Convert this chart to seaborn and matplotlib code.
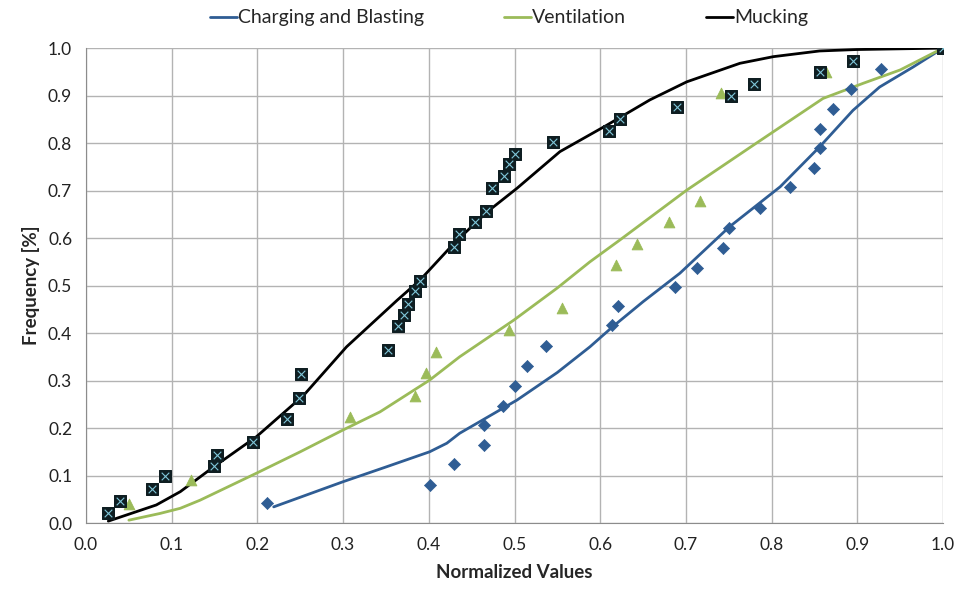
import matplotlib
matplotlib.use("Agg")
import matplotlib.pyplot as plt
import seaborn as sns

cb_x = [0.211, 0.401, 0.429, 0.464, 0.464, 0.486, 0.501, 0.515, 0.537, 0.614, 0.621,
        0.687, 0.713, 0.743, 0.750, 0.786, 0.821, 0.850, 0.856, 0.856, 0.872, 0.893, 0.928, 1.0]
cb_y = [0.043, 0.080, 0.124, 0.164, 0.206, 0.247, 0.288, 0.331, 0.373, 0.417, 0.457,
        0.497, 0.538, 0.580, 0.622, 0.664, 0.708, 0.748, 0.789, 0.830, 0.872, 0.914, 0.956, 1.0]

ve_x = [0.050, 0.122, 0.308, 0.384, 0.397, 0.408, 0.494, 0.556, 0.618, 0.643, 0.680,
        0.716, 0.741, 0.864, 1.0]
ve_y = [0.040, 0.090, 0.224, 0.267, 0.315, 0.361, 0.406, 0.452, 0.543, 0.587, 0.633,
        0.678, 0.906, 0.949, 1.0]

mu_x = [0.026, 0.040, 0.077, 0.092, 0.149, 0.153, 0.195, 0.234, 0.248, 0.251, 0.352,
        0.364, 0.371, 0.376, 0.384, 0.390, 0.429, 0.435, 0.454, 0.467, 0.474, 0.488,
        0.494, 0.500, 0.545, 0.610, 0.623, 0.690, 0.753, 0.780, 0.856, 0.895, 1.0]
mu_y = [0.022, 0.047, 0.071, 0.098, 0.120, 0.143, 0.170, 0.219, 0.264, 0.314, 0.364,
        0.415, 0.439, 0.461, 0.488, 0.509, 0.582, 0.608, 0.634, 0.657, 0.705, 0.731,
        0.756, 0.777, 0.802, 0.826, 0.850, 0.875, 0.900, 0.924, 0.949, 0.973, 1.0]

# fitted curves
cb_fit_x = [0.219, 0.300, 0.350, 0.401, 0.421, 0.436, 0.460, 0.503, 0.550, 0.588,
            0.615, 0.650, 0.693, 0.751, 0.810, 0.856, 0.895, 0.926, 0.965, 1.0]
cb_fit_y = [0.034, 0.087, 0.118, 0.150, 0.168, 0.189, 0.214, 0.259, 0.317, 0.371,
            0.414, 0.466, 0.526, 0.624, 0.708, 0.792, 0.869, 0.918, 0.960, 1.0]

ve_fit_x = [0.050, 0.086, 0.110, 0.133, 0.199, 0.250, 0.300, 0.343, 0.401, 0.436,
            0.499, 0.550, 0.588, 0.623, 0.701, 0.779, 0.860, 0.907, 0.950, 1.0]
ve_fit_y = [0.006, 0.020, 0.031, 0.048, 0.105, 0.150, 0.196, 0.234, 0.301, 0.350,
            0.427, 0.495, 0.550, 0.596, 0.701, 0.796, 0.894, 0.926, 0.954, 1.0]

mu_fit_x = [0.026, 0.082, 0.110, 0.148, 0.199, 0.254, 0.304, 0.363, 0.390, 0.430,
            0.468, 0.503, 0.553, 0.608, 0.658, 0.701, 0.763, 0.802, 0.856, 0.899, 1.0]
mu_fit_y = [0.004, 0.038, 0.066, 0.117, 0.182, 0.269, 0.371, 0.469, 0.512, 0.590,
            0.655, 0.705, 0.782, 0.838, 0.891, 0.929, 0.968, 0.982, 0.994, 0.997, 1.0]

blue = "#2f5d94"
green = "#9bbb59"
black = "#000000"

sns.set_style("white")
plt.rcParams["font.family"] = ["Lato", "DejaVu Sans"]

fig = plt.figure(figsize=(9.59, 5.94), dpi=100)
ax = fig.add_axes([0.0897, 0.1195, 0.8936, 0.7995])

# fitted lines
sns.lineplot(x=cb_fit_x, y=cb_fit_y, ax=ax, color=blue, lw=2, sort=False,
             label="Charging and Blasting")
sns.lineplot(x=ve_fit_x, y=ve_fit_y, ax=ax, color=green, lw=2, sort=False,
             label="Ventilation")
sns.lineplot(x=mu_fit_x, y=mu_fit_y, ax=ax, color=black, lw=2, sort=False,
             label="Mucking")

# observed points
sns.scatterplot(x=cb_x, y=cb_y, ax=ax, marker="D", s=38, color=blue,
                edgecolor=blue, zorder=4)
sns.scatterplot(x=ve_x, y=ve_y, ax=ax, marker="^", s=60, color=green,
                edgecolor=green, zorder=4)
sns.scatterplot(x=mu_x, y=mu_y, ax=ax, marker="s", s=80, color="#0f1e22",
                edgecolor="#0f1e22", zorder=5)
sns.scatterplot(x=mu_x, y=mu_y, ax=ax, marker="x", s=30, color="#7fc6d8",
                linewidth=0.8, zorder=6)

ax.set_xlim(0, 1.0)
ax.set_ylim(0, 1.0)
ax.set_xticks([i / 10 for i in range(11)])
ax.set_yticks([i / 10 for i in range(11)])
ax.set_xticklabels([f"{i / 10:.1f}" for i in range(11)])
ax.set_yticklabels([f"{i / 10:.1f}" for i in range(11)])
ax.grid(True, color="#b3b3b3", lw=1)
ax.set_axisbelow(True)
for side in ["top", "right"]:
    ax.spines[side].set_visible(False)
for side in ["left", "bottom"]:
    ax.spines[side].set_color("#8c8c8c")
ax.tick_params(axis="both", direction="out", length=6, color="#8c8c8c",
               labelsize=12.5, labelcolor="#222222", pad=4)
ax.set_xlabel("Normalized Values", fontsize=13.5, fontweight="bold", labelpad=8)
ax.set_ylabel("Frequency [%]", fontsize=13.5, fontweight="bold", labelpad=6)

handles, labels = ax.get_legend_handles_labels()
ax.get_legend().remove()
leg = fig.legend(handles[:3], labels[:3], loc="center", bbox_to_anchor=(0.531, 0.97),
                 ncol=3, frameon=False, fontsize=14, handlelength=1.4,
                 handletextpad=0.05, columnspacing=4.1)
for t in leg.get_texts():
    t.set_color("#262626")

fig.savefig("out.png", dpi=100)
